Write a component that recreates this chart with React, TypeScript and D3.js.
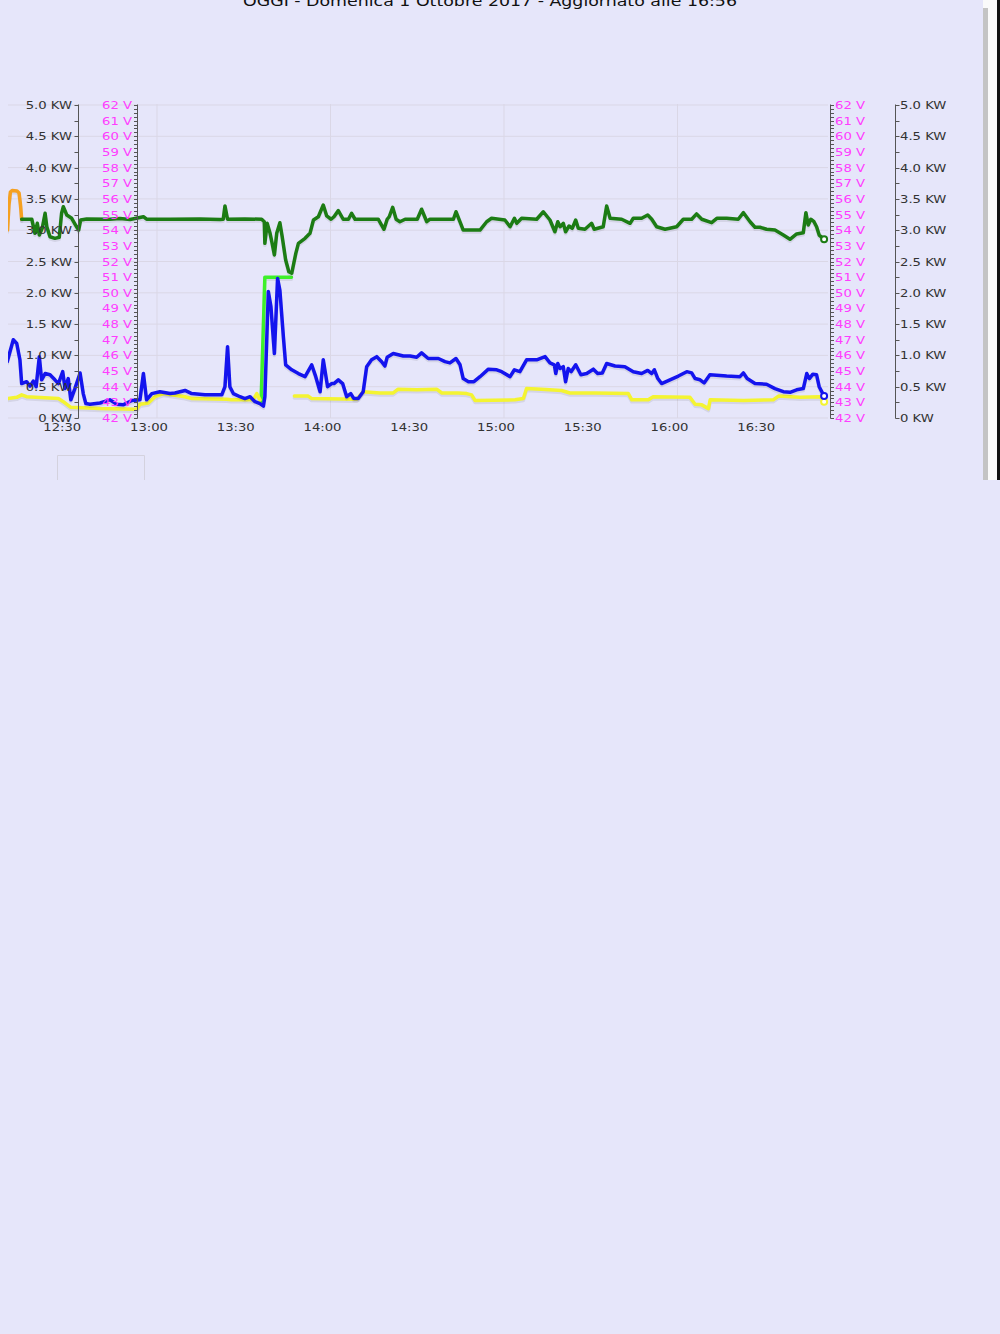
import React from 'react';
import * as d3 from 'd3';

// minutes after 12:00, value
const battV: [number, number][] = [
  [13.2, 54.7], [16.7, 54.7], [17.8, 53.8], [18.6, 54.44], [19.3, 53.69], [20.3, 54.12], [21.3, 55.08],
  [21.9, 54.22], [23.0, 53.58], [24.7, 53.48], [26.2, 53.55], [27.0, 55.08], [27.6, 55.5], [28.8, 54.97],
  [30.5, 54.76], [32.2, 54.22], [32.9, 54.01], [33.6, 54.65], [35.7, 54.72], [43.7, 54.7], [47.2, 54.75],
  [50.7, 54.68], [55.3, 54.86], [56.4, 54.7], [64.5, 54.7], [74.9, 54.72], [81.8, 54.68], [82.9, 54.7],
  [83.5, 55.55], [84.4, 54.7], [90.4, 54.72], [96.2, 54.7], [97.1, 54.54], [97.3, 53.16], [98.1, 54.44],
  [99.1, 53.8], [99.7, 53.27], [100.6, 52.42], [101.4, 53.8], [102.5, 54.48], [103.3, 53.58], [104.5, 52.1],
  [105.6, 51.35], [106.6, 51.25], [108.0, 52.52], [108.9, 53.16], [111.2, 53.48], [112.9, 53.8],
  [114.1, 54.65], [115.8, 54.86], [117.5, 55.61], [118.7, 54.91], [120.2, 54.7], [121.2, 54.86],
  [122.7, 55.25], [124.4, 54.7], [126.2, 54.7], [127.3, 55.08], [128.5, 54.7], [136.5, 54.7],
  [138.5, 54.06], [139.6, 54.7], [140.3, 54.86], [141.5, 55.46], [142.7, 54.7], [144.0, 54.54],
  [145.8, 54.7], [150.0, 54.7], [151.5, 55.34], [153.3, 54.54], [154.4, 54.7], [162.5, 54.7],
  [163.4, 55.18], [165.0, 54.44], [165.9, 54.01], [171.7, 54.01], [174.0, 54.54], [175.7, 54.76],
  [180.3, 54.65], [182.1, 54.22], [183.6, 54.76], [184.4, 54.44], [186.1, 54.76], [191.3, 54.7],
  [193.6, 55.18], [195.9, 54.65], [197.6, 53.9], [198.6, 54.54], [199.4, 54.22], [200.5, 54.44],
  [201.3, 53.9], [202.5, 54.27], [203.6, 54.12], [204.8, 54.65], [205.7, 54.12], [208.0, 54.06],
  [210.3, 54.44], [211.2, 54.06], [214.3, 54.22], [215.5, 55.55], [216.7, 54.76], [220.7, 54.7],
  [223.6, 54.44], [224.7, 54.76], [227.6, 54.76], [229.7, 54.97], [231.1, 54.7], [232.8, 54.22],
  [235.7, 54.06], [239.7, 54.22], [242.0, 54.7], [244.9, 54.7], [246.6, 55.04], [248.4, 54.7],
  [251.8, 54.48], [253.6, 54.76], [257.0, 54.76], [261.0, 54.7], [262.8, 55.12], [265.1, 54.54],
  [266.8, 54.19], [268.5, 54.19], [270.8, 54.06], [273.7, 54.01], [276.6, 53.69], [278.9, 53.42],
  [281.2, 53.76], [283.5, 53.84], [284.4, 55.12], [285.2, 54.33], [286.1, 54.7], [287.2, 54.54],
  [288.1, 54.22], [289.0, 53.69], [290.7, 53.42]
];

const chargeV: [number, number][] = [
  [8.3, 54.01], [8.8, 55.61], [9.3, 56.44], [9.9, 56.54], [11.6, 56.51], [12.3, 56.38], [12.8, 55.61],
  [13.2, 54.7]
];

const loadKw: [number, number][] = [
  [8.2, 0.9], [10.3, 1.25], [11.5, 1.19], [12.6, 0.93], [13.2, 0.55], [14.9, 0.58], [16.1, 0.51],
  [17.2, 0.59], [18.2, 0.5], [19.3, 0.98], [20.1, 0.61], [21.3, 0.71], [23.0, 0.69], [24.7, 0.61],
  [25.9, 0.55], [27.4, 0.74], [28.2, 0.47], [29.3, 0.63], [30.2, 0.29], [31.6, 0.47], [33.4, 0.72],
  [34.5, 0.39], [35.4, 0.23], [36.8, 0.22], [40.3, 0.24], [43.7, 0.29], [46.1, 0.22], [48.3, 0.21],
  [51.3, 0.28], [54.1, 0.29], [55.3, 0.71], [56.4, 0.29], [58.2, 0.39], [61.0, 0.42], [64.5, 0.39],
  [66.2, 0.4], [69.7, 0.44], [72.0, 0.39], [76.6, 0.37], [82.4, 0.37], [83.5, 0.5], [84.4, 1.14],
  [85.2, 0.5], [86.4, 0.39], [88.7, 0.34], [90.4, 0.31], [92.2, 0.34], [93.9, 0.26], [95.6, 0.23],
  [96.8, 0.19], [97.3, 0.34], [98.5, 2.02], [99.4, 1.78], [100.6, 1.03], [101.7, 2.23], [102.5, 2.04],
  [103.7, 1.3], [104.5, 0.85], [106.6, 0.77], [108.9, 0.71], [111.2, 0.66], [113.5, 0.85], [114.9, 0.66],
  [116.4, 0.42], [117.5, 0.93], [119.0, 0.5], [120.4, 0.55], [121.2, 0.55], [122.7, 0.61], [124.2, 0.55],
  [125.6, 0.34], [127.0, 0.39], [128.1, 0.31], [129.6, 0.31], [131.3, 0.42], [132.5, 0.82], [134.2, 0.93],
  [136.0, 0.98], [137.7, 0.9], [138.8, 0.83], [139.6, 0.97], [141.7, 1.03], [145.2, 0.99], [147.5, 0.99],
  [149.8, 0.97], [151.5, 1.04], [153.8, 0.95], [157.3, 0.95], [159.6, 0.9], [161.3, 0.88], [163.4, 0.95],
  [164.8, 0.85], [165.9, 0.63], [167.7, 0.58], [169.6, 0.58], [171.7, 0.66], [174.6, 0.78], [177.5, 0.77],
  [179.2, 0.74], [182.1, 0.66], [183.6, 0.77], [185.5, 0.74], [187.8, 0.93], [191.3, 0.93], [194.2, 0.98],
  [195.9, 0.88], [197.4, 0.85], [197.9, 0.71], [198.6, 0.87], [199.4, 0.79], [200.5, 0.82], [201.3, 0.58],
  [202.2, 0.79], [203.2, 0.74], [204.8, 0.85], [206.6, 0.69], [208.6, 0.71], [210.9, 0.78], [212.4, 0.71],
  [214.0, 0.72], [215.5, 0.87], [218.4, 0.83], [221.8, 0.82], [224.7, 0.74], [227.6, 0.71], [229.7, 0.76],
  [231.1, 0.71], [232.0, 0.77], [233.2, 0.63], [234.5, 0.55], [237.4, 0.61], [240.3, 0.67], [243.2, 0.74],
  [244.9, 0.72], [246.1, 0.63], [247.8, 0.61], [249.2, 0.56], [251.2, 0.69], [257.0, 0.67], [261.6, 0.66],
  [262.8, 0.72], [264.1, 0.63], [266.8, 0.55], [270.8, 0.54], [273.7, 0.47], [276.6, 0.42], [278.9, 0.41],
  [281.2, 0.45], [283.5, 0.47], [284.7, 0.71], [285.6, 0.63], [286.8, 0.7], [288.1, 0.69], [289.0, 0.5],
  [290.7, 0.35]
];

const solarKw: [number, number | null][] = [
  [8.2, 0.31], [11.5, 0.33], [13.2, 0.37], [14.9, 0.34], [25.9, 0.31], [27.6, 0.26], [30.2, 0.17],
  [40.3, 0.15], [53.0, 0.14], [54.1, 0.22], [57.0, 0.24], [59.3, 0.34], [62.2, 0.39], [69.7, 0.34],
  [72.0, 0.31], [84.1, 0.3], [85.8, 0.29], [93.3, 0.29], [94.5, 0.39], [95.6, 0.29], [101, null],
  [107.5, 0.35], [112.3, 0.35], [113.5, 0.31], [129.1, 0.3], [131.3, 0.42], [137.1, 0.4], [141.7, 0.4],
  [143.4, 0.46], [149.8, 0.45], [156.7, 0.46], [158.5, 0.4], [164.2, 0.4], [167.1, 0.39], [168.8, 0.37],
  [170.0, 0.28], [183.8, 0.29], [186.7, 0.31], [187.8, 0.47], [193.0, 0.46], [199.9, 0.44], [202.8, 0.4],
  [211.5, 0.4], [223.0, 0.39], [224.2, 0.29], [229.9, 0.29], [231.6, 0.34], [244.3, 0.33], [246.1, 0.22],
  [248.4, 0.21], [250.7, 0.15], [251.3, 0.29], [262.8, 0.28], [273.1, 0.29], [274.9, 0.35], [282.4, 0.33],
  [289.3, 0.34], [290.7, 0.26]
];

const genKw: [number, number][] = [[96.0, 0.26], [97.3, 2.25], [106.5, 2.25]];

const kwTicks = [0, 0.5, 1, 1.5, 2, 2.5, 3, 3.5, 4, 4.5, 5];
const vTicks = d3.range(42, 63);
const timeTicks = [30, 60, 90, 120, 150, 180, 210, 240, 270];
const hourLines = [60, 120, 180, 240];

const title = 'OGGI - Domenica 1 Ottobre 2017 - Aggiornato alle 16:56';

const W = 1000, H = 1334;
const SX = 1.2; // text is stretched horizontally in the reference
const FONT = 'DejaVu Sans, Verdana, sans-serif';

const App: React.FC = () => {
  const x = d3.scaleLinear().domain([60, 240]).range([157, 677.5]);
  const yKw = d3.scaleLinear().domain([0, 5]).range([418, 105]);
  const yV = d3.scaleLinear().domain([42, 62]).range([418, 105]);
  const left = 8, right = 828;

  const lineKw = d3.line<[number, number | null]>()
    .defined(d => d[1] != null)
    .x(d => x(d[0]))
    .y(d => yKw(d[1] as number));
  const lineV = d3.line<[number, number]>()
    .x(d => x(d[0]))
    .y(d => yV(d[1]));

  const fmt = (m: number) => {
    const h = 12 + Math.floor(m / 60);
    const mm = m % 60;
    return `${h}:${mm < 10 ? '0' + mm : mm}`;
  };
  const kwLabel = (v: number) => (v === 0 ? '0 KW' : `${v.toFixed(1)} KW`);

  const txt = (tx: number, ty: number, s: string, anchor: string, fill: string, size: number, key?: string) => (
    <text key={key} transform={`translate(${tx},${ty}) scale(${SX},1)`} textAnchor={anchor}
      fill={fill} fontSize={size} fontFamily={FONT}>{s}</text>
  );

  const series = [
    { d: lineKw(genKw as any), c: '#3ef02a' },
    { d: lineKw(solarKw), c: '#f4f432' },
    { d: lineKw(loadKw), c: '#1414ee' },
    { d: lineV(chargeV), c: '#f5a020' },
    { d: lineV(battV), c: '#1c7c14' },
  ];

  const last = <T,>(a: T[]) => a[a.length - 1];
  const endV = last(battV), endB = last(loadKw), endY = last(solarKw) as [number, number];

  const kwMinor = d3.range(0, 5.01, 0.25);
  const vMinor = d3.range(42, 62.01, 0.25);

  return (
    <svg width={W} height={H} style={{ position: 'absolute', left: 0, top: 0, display: 'block' }}>
      <rect width={W} height={H} fill="#e6e6fa" />
      <defs>
        <clipPath id="plot">
          <rect x={left} y={100} width={right - left} height={322} />
        </clipPath>
      </defs>

      {txt(490, 6, title, 'middle', '#111', 14.5)}

      {/* grid */}
      <g stroke="#dad7e6" strokeWidth={1}>
        {kwTicks.map(t => <line key={'h' + t} x1={left} x2={right} y1={yKw(t)} y2={yKw(t)} />)}
        {hourLines.map(t => <line key={'v' + t} x1={x(t)} x2={x(t)} y1={104} y2={418} />)}
      </g>

      {/* series */}
      <g clipPath="url(#plot)" fill="none" strokeLinejoin="round" strokeLinecap="round">
        {series.map((s, i) => (
          <g key={i}>
            <path d={s.d || ''} stroke="rgba(0,0,0,0.08)" strokeWidth={3.5} transform="translate(0,2)" />
            <path d={s.d || ''} stroke={s.c} strokeWidth={3.5} />
          </g>
        ))}
      </g>
      <circle cx={x(endY[0])} cy={yKw(endY[1])} r={3} fill="#fff" stroke="#f4f432" strokeWidth={2} />
      <circle cx={x(endB[0])} cy={yKw(endB[1])} r={3} fill="#fff" stroke="#1414ee" strokeWidth={2} />
      <circle cx={x(endV[0])} cy={yV(endV[1])} r={3} fill="#fff" stroke="#1c7c14" strokeWidth={2} />

      {/* axes */}
      <g stroke="#555" strokeWidth={1}>
        <line x1={78.5} x2={78.5} y1={104.5} y2={418.5} />
        {kwMinor.map(t => <line key={t} x1={74.5} x2={78.5} y1={Math.round(yKw(t)) + 0.5} y2={Math.round(yKw(t)) + 0.5} />)}
        <line x1={137.5} x2={137.5} y1={104.5} y2={418.5} />
        {vMinor.map(t => <line key={t} x1={134} x2={137.5} y1={Math.round(yV(t)) + 0.5} y2={Math.round(yV(t)) + 0.5} />)}
        <line x1={830.5} x2={830.5} y1={104.5} y2={418.5} />
        {vMinor.map(t => <line key={t} x1={830.5} x2={834} y1={Math.round(yV(t)) + 0.5} y2={Math.round(yV(t)) + 0.5} />)}
        <line x1={895.5} x2={895.5} y1={104.5} y2={418.5} />
        {kwMinor.map(t => <line key={t} x1={895.5} x2={899.5} y1={Math.round(yKw(t)) + 0.5} y2={Math.round(yKw(t)) + 0.5} />)}
      </g>

      {kwTicks.map(t => txt(72, yKw(t) + 4, kwLabel(t), 'end', '#333', 11, 'kl' + t))}
      {vTicks.map(t => txt(132, yV(t) + 4, `${t} V`, 'end', '#ff3cff', 11, 'vl' + t))}
      {vTicks.map(t => txt(835, yV(t) + 4, `${t} V`, 'start', '#ff3cff', 11, 'vr' + t))}
      {kwTicks.map(t => txt(900, yKw(t) + 4, kwLabel(t), 'start', '#333', 11, 'kr' + t))}

      {timeTicks.map(t => txt(x(t) - 8, 431, fmt(t), 'middle', '#333', 11, 't' + t))}

      {/* legend box, cut by the container */}
      <path d="M57.5,480 V455.5 H144.5 V480" fill="none" stroke="#d4d2de" />

      {/* frame scrollbar */}
      <rect x={983} y={0} width={17} height={480} fill="#fafafa" />
      <rect x={983} y={8} width={5} height={472} fill="#c4c4c4" />
      <rect x={997} y={0} width={3} height={480} fill="#111" />
    </svg>
  );
};

export default App;
